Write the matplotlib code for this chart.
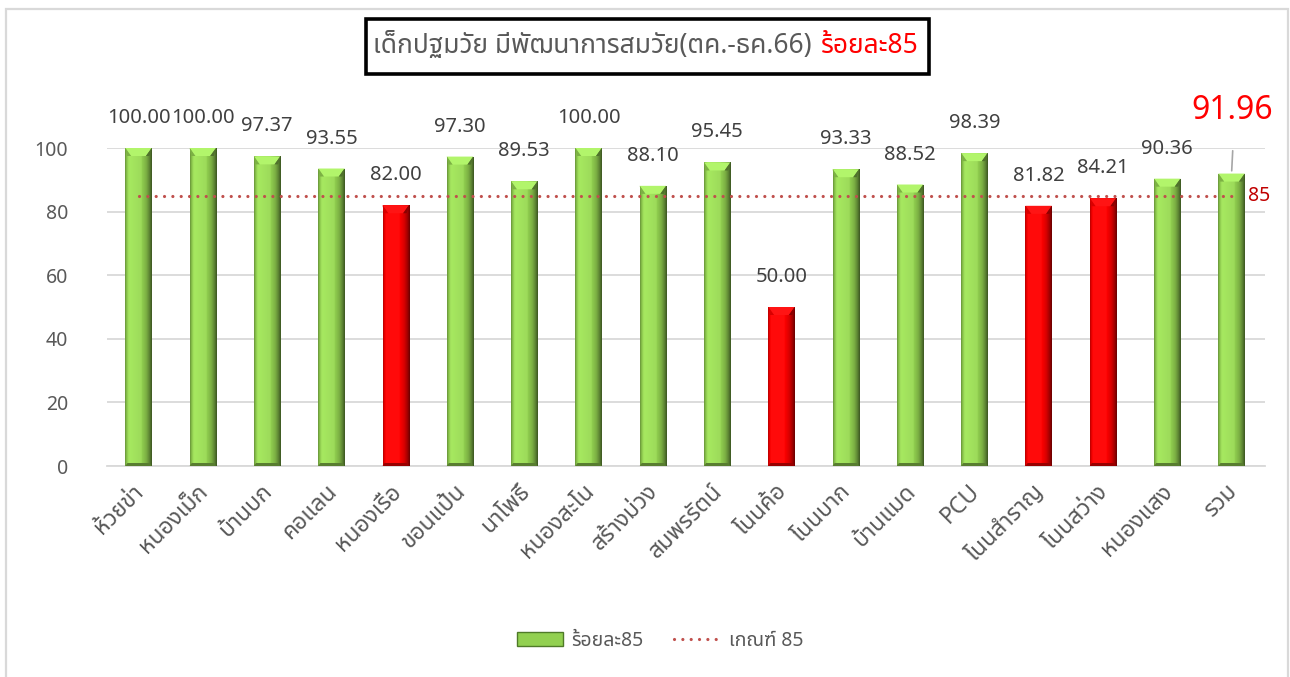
import matplotlib
matplotlib.use("Agg")
import matplotlib.pyplot as plt
import matplotlib.patches as mpatches
from matplotlib.lines import Line2D
from matplotlib import font_manager
from matplotlib.ft2font import FT2Font
import numpy as np

# ---------------- data ----------------
categories = ["ห้วยข่า", "หนองเม็ก", "บ้านบก", "คอแลน", "หนองเรือ", "ขอนแป้น",
              "นาโพธิ์", "หนองสะโน", "สร้างม่วง", "สมพรรัตน์", "โนนค้อ", "โนนบาก",
              "บ้านแมด", "PCU", "โนนสำราญ", "โนนสว่าง", "หนองแสง", "รวม"]
values = [100.00, 100.00, 97.37, 93.55, 82.00, 97.30, 89.53, 100.00, 88.10,
          95.45, 50.00, 93.33, 88.52, 98.39, 81.82, 84.21, 90.36, 91.96]
threshold = 85
yticks = [0, 20, 40, 60, 80, 100]
title_main = "เด็กปฐมวัย มีพัฒนาการสมวัย(ตค.-ธค.66)"
title_red = "ร้อยละ85"
series_label = "ร้อยละ85"
line_label = "เกณฑ์ 85"

# ---------------- font with Thai glyphs ----------------
thai_family = None
pref = ["Noto Sans Thai", "Noto Sans Thai UI", "Loma", "Garuda", "Tlwg Typo",
        "Norasi", "Kinnari", "Sarabun", "Tahoma", "Leelawadee"]
cands = []
for f in font_manager.fontManager.ttflist:
    try:
        cm = FT2Font(f.fname).get_charmap()
    except Exception:
        continue
    if 0x0E01 in cm and 0x0E49 in cm:
        cands.append(f.name)
for p in pref:
    if p in cands:
        thai_family = p
        break
if thai_family is None and cands:
    thai_family = cands[0]
families = ([thai_family] if thai_family else []) + ["DejaVu Sans"]
plt.rcParams["font.family"] = families

GREY = "#595959"
GREEN = np.array([0x92, 0xD0, 0x50]) / 255
RED = np.array([0xFF, 0x00, 0x00]) / 255
LINE_C = "#C0504D"

W, H = 1290, 677
fig = plt.figure(figsize=(W / 100, H / 100), dpi=100)
ax = fig.add_axes([107 / W, 1 - 466 / H, (1265 - 107) / W, (466 - 148) / H])

x = np.arange(len(categories))
colors = [RED if v < threshold else GREEN for v in values]
bars = ax.bar(x, values, width=0.41, color=[tuple(c) for c in colors],
              zorder=2, linewidth=0)

ax.set_xlim(-0.49, len(categories) - 1 + 0.52)
ax.set_ylim(0, 100)
ax.set_yticks(yticks)
ax.set_xticks(x)
ax.set_xticklabels([])
for xi, cat in zip(x, categories):
    ax.annotate(cat, xy=(xi, 0), xytext=(2, -22), textcoords="offset pixels",
                rotation=45, ha="right", va="center", rotation_mode="anchor",
                fontsize=16.5, color=GREY, annotation_clip=False)
ax.tick_params(axis="y", length=0, pad=28, labelsize=14, labelcolor=GREY)
ax.tick_params(axis="x", length=0)
ax.grid(axis="y", color="#D9D9D9", linewidth=1.3, zorder=0)
for s in ["top", "right", "left"]:
    ax.spines[s].set_visible(False)
ax.spines["bottom"].set_color("#D9D9D9")
ax.spines["bottom"].set_linewidth(1.3)

# bevel / gradient effect
px_per_unit = ax.bbox.height / 100.0
prof_pos = [0.0, 0.06, 0.16, 0.62, 0.8, 0.92, 1.0]
prof_fac = [0.72, 0.95, 1.07, 1.0, 0.84, 0.62, 0.42]
for b, c in zip(bars, colors):
    x0, w, h = b.get_x(), b.get_width(), b.get_height()
    t = np.linspace(0, 1, 60)
    fac = np.interp(t, prof_pos, prof_fac)
    grad = np.clip(c[None, :] * fac[:, None] + (fac[:, None] > 1) * 0.04, 0, 1)
    im = ax.imshow(grad[None, :, :], extent=[x0, x0 + w, 0, h], aspect="auto",
                   zorder=3, interpolation="bilinear")
    im.set_clip_path(b)
    d = 8 / px_per_unit
    top = mpatches.Polygon([[x0, h], [x0 + w, h], [x0 + w * 0.78, h - d],
                            [x0 + w * 0.22, h - d]], closed=True,
                           facecolor=tuple(np.clip(c * 1.08 + 0.08, 0, 1)),
                           edgecolor="none", zorder=4)
    ax.add_patch(top)
    lt = mpatches.Polygon([[x0, h], [x0 + w * 0.22, h - d], [x0 + w * 0.06, h - d]],
                          closed=True, facecolor=tuple(c * 0.85), edgecolor="none", zorder=4)
    ax.add_patch(lt)
    rt = mpatches.Polygon([[x0 + w, h], [x0 + w * 0.78, h - d], [x0 + w * 0.92, h - d]],
                          closed=True, facecolor=tuple(c * 0.55), edgecolor="none", zorder=4)
    ax.add_patch(rt)
    d2 = 3 / px_per_unit
    bot = mpatches.Polygon([[x0, 0], [x0 + w, 0], [x0 + w * 0.92, d2], [x0 + w * 0.08, d2]],
                           closed=True, facecolor=tuple(c * 0.6), edgecolor="none", zorder=4)
    ax.add_patch(bot)

# threshold line
ax.plot([x[0], x[-1]], [threshold, threshold], color=LINE_C, linewidth=2.3,
        linestyle=(0, (0.01, 2.6)), dash_capstyle="round", zorder=5)
ax.annotate(f"{threshold}", xy=(x[-1], threshold), xytext=(16, 0),
            textcoords="offset pixels", ha="left", va="center", fontsize=14,
            color="#C00000")

# data labels
for i, v in enumerate(values):
    if i == len(values) - 1:
        ax.annotate(f"{v:.2f}", xy=(x[i], v), xytext=(1, 63), textcoords="offset pixels",
                    ha="center", va="center", fontsize=23, color="#FF0000",
                    fontweight="semibold")
        ax.annotate("", xy=(x[i], v), xytext=(x[i] + 0.02, 100),
                    arrowprops=dict(arrowstyle="-", color="#A6A6A6", lw=1.2),
                    zorder=6)
    else:
        ax.annotate(f"{v:.2f}", xy=(x[i], v), xytext=(0, 20), textcoords="offset pixels",
                    ha="center", va="bottom", fontsize=14.5, color="#404040")

# title box
fig.patches.append(mpatches.Rectangle((366 / W, 1 - 74 / H), (929 - 366) / W, 55 / H,
                                      transform=fig.transFigure, fill=False,
                                      edgecolor="black", linewidth=2.6))
t1 = fig.text(373 / W, 1 - 46 / H, title_main, ha="left", va="center",
              fontsize=19, color=GREY)
t2 = fig.text(919 / W, 1 - 46 / H, title_red, ha="right", va="center",
              fontsize=19, color="#FF0000", fontweight="bold")

# figure border
fig.patches.append(mpatches.Rectangle((5.5 / W, -0.02), (1288 - 5.5) / W, 1 - 8.5 / H + 0.02,
                                      transform=fig.transFigure, fill=False,
                                      edgecolor="#D9D9D9", linewidth=1.6))

# legend
handles = [mpatches.Patch(facecolor=tuple(GREEN), edgecolor="#4F7A28", linewidth=1),
           Line2D([0], [0], color=LINE_C, linewidth=2.3, linestyle=(0, (0.01, 2.6)),
                  dash_capstyle="round")]
fig.legend(handles, [series_label, line_label], loc="center",
           bbox_to_anchor=(660 / W, 1 - 641 / H), ncol=2, frameon=False,
           fontsize=14, labelcolor=GREY, handlelength=2.4, columnspacing=1.6,
           handletextpad=0.4)

fig.savefig("out.png", dpi=100)
